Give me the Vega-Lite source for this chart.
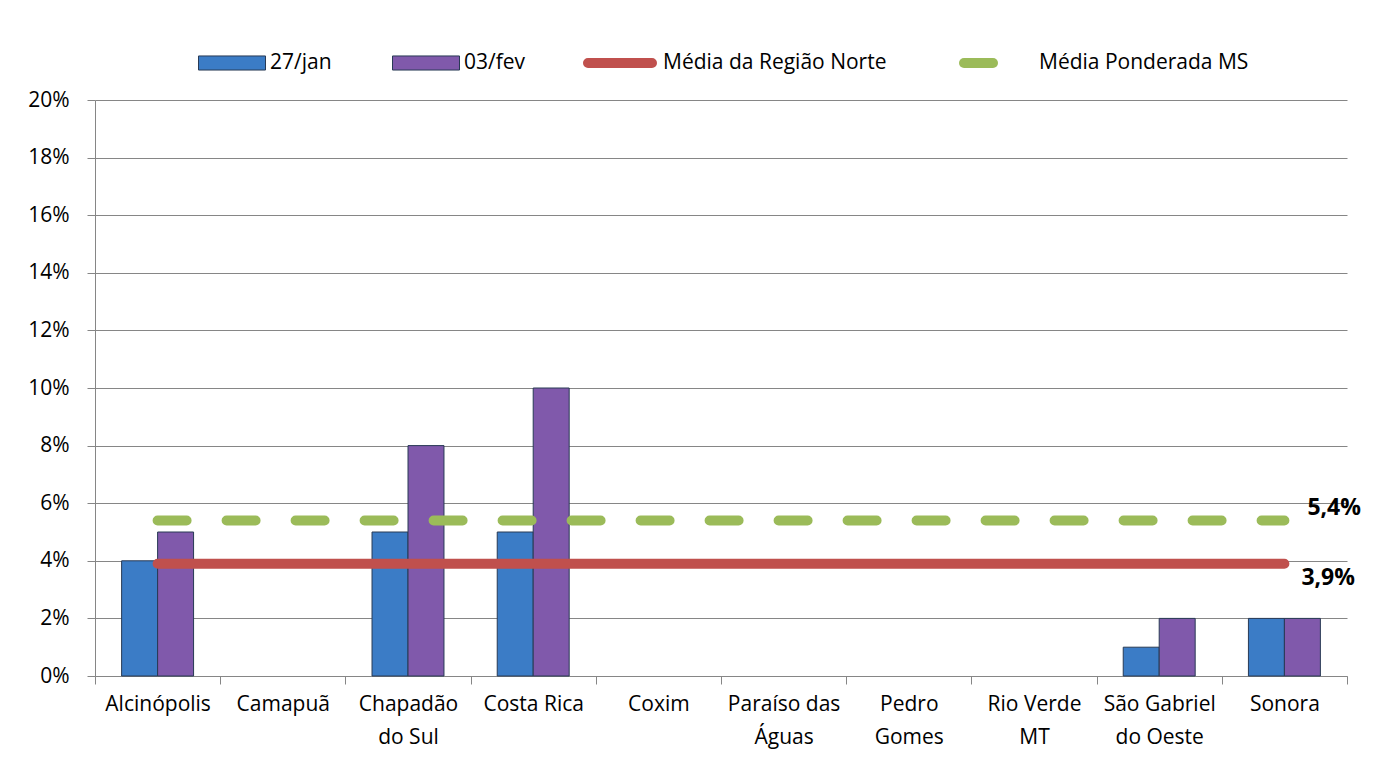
{
  "$schema": "https://vega.github.io/schema/vega-lite/v6.json",
  "width": 1252,
  "height": 576,
  "autosize": {"type": "none"},
  "padding": {"left": 95, "top": 100, "right": 42, "bottom": 94},
  "background": "white",
  "config": {
    "font": "Open Sans",
    "locale": {"number": {"decimal": ",", "thousands": ".", "grouping": [3], "currency": ["R$", ""]}},
    "view": {"stroke": null},
    "axis": {"labelColor": "#000000", "labelFont": "Open Sans", "labelFontSize": 21, "domainColor": "#868686", "tickColor": "#868686", "gridColor": "#868686", "title": null},
    "legend": {"labelFont": "Open Sans", "labelFontSize": 21, "labelColor": "#000000", "labelLimit": 500}
  },
  "datasets": {
    "barras": [
      {"municipio": "Alcinópolis", "data": "27/jan", "valor": 0.04},
      {"municipio": "Alcinópolis", "data": "03/fev", "valor": 0.05},
      {"municipio": "Camapuã", "data": "27/jan", "valor": 0},
      {"municipio": "Camapuã", "data": "03/fev", "valor": 0},
      {"municipio": "Chapadão do Sul", "data": "27/jan", "valor": 0.05},
      {"municipio": "Chapadão do Sul", "data": "03/fev", "valor": 0.08},
      {"municipio": "Costa Rica", "data": "27/jan", "valor": 0.05},
      {"municipio": "Costa Rica", "data": "03/fev", "valor": 0.10},
      {"municipio": "Coxim", "data": "27/jan", "valor": 0},
      {"municipio": "Coxim", "data": "03/fev", "valor": 0},
      {"municipio": "Paraíso das Águas", "data": "27/jan", "valor": 0},
      {"municipio": "Paraíso das Águas", "data": "03/fev", "valor": 0},
      {"municipio": "Pedro Gomes", "data": "27/jan", "valor": 0},
      {"municipio": "Pedro Gomes", "data": "03/fev", "valor": 0},
      {"municipio": "Rio Verde MT", "data": "27/jan", "valor": 0},
      {"municipio": "Rio Verde MT", "data": "03/fev", "valor": 0},
      {"municipio": "São Gabriel do Oeste", "data": "27/jan", "valor": 0.01},
      {"municipio": "São Gabriel do Oeste", "data": "03/fev", "valor": 0.02},
      {"municipio": "Sonora", "data": "27/jan", "valor": 0.02},
      {"municipio": "Sonora", "data": "03/fev", "valor": 0.02}
    ],
    "medias": [
      {"municipio": "Alcinópolis", "serie": "Média da Região Norte", "valor": 0.039},
      {"municipio": "Camapuã", "serie": "Média da Região Norte", "valor": 0.039},
      {"municipio": "Chapadão do Sul", "serie": "Média da Região Norte", "valor": 0.039},
      {"municipio": "Costa Rica", "serie": "Média da Região Norte", "valor": 0.039},
      {"municipio": "Coxim", "serie": "Média da Região Norte", "valor": 0.039},
      {"municipio": "Paraíso das Águas", "serie": "Média da Região Norte", "valor": 0.039},
      {"municipio": "Pedro Gomes", "serie": "Média da Região Norte", "valor": 0.039},
      {"municipio": "Rio Verde MT", "serie": "Média da Região Norte", "valor": 0.039},
      {"municipio": "São Gabriel do Oeste", "serie": "Média da Região Norte", "valor": 0.039},
      {"municipio": "Sonora", "serie": "Média da Região Norte", "valor": 0.039},
      {"municipio": "Alcinópolis", "serie": "Média Ponderada MS", "valor": 0.054},
      {"municipio": "Camapuã", "serie": "Média Ponderada MS", "valor": 0.054},
      {"municipio": "Chapadão do Sul", "serie": "Média Ponderada MS", "valor": 0.054},
      {"municipio": "Costa Rica", "serie": "Média Ponderada MS", "valor": 0.054},
      {"municipio": "Coxim", "serie": "Média Ponderada MS", "valor": 0.054},
      {"municipio": "Paraíso das Águas", "serie": "Média Ponderada MS", "valor": 0.054},
      {"municipio": "Pedro Gomes", "serie": "Média Ponderada MS", "valor": 0.054},
      {"municipio": "Rio Verde MT", "serie": "Média Ponderada MS", "valor": 0.054},
      {"municipio": "São Gabriel do Oeste", "serie": "Média Ponderada MS", "valor": 0.054},
      {"municipio": "Sonora", "serie": "Média Ponderada MS", "valor": 0.054}
    ]
  },
  "encoding": {
    "x": {
      "field": "municipio", "type": "nominal", "sort": null,
      "scale": {"domain": ["Alcinópolis", "Camapuã", "Chapadão do Sul", "Costa Rica", "Coxim", "Paraíso das Águas", "Pedro Gomes", "Rio Verde MT", "São Gabriel do Oeste", "Sonora"], "paddingInner": 0, "paddingOuter": 0},
      "axis": {
        "tickBand": "extent", "labelAngle": 0, "tickSize": 8, "labelPadding": 9, "labelLineHeight": 33, "grid": false,
        "labelExpr": "datum.value == 'Chapadão do Sul' ? ['Chapadão', 'do Sul'] : datum.value == 'Paraíso das Águas' ? ['Paraíso das', 'Águas'] : datum.value == 'Pedro Gomes' ? ['Pedro', 'Gomes'] : datum.value == 'Rio Verde MT' ? ['Rio Verde', 'MT'] : datum.value == 'São Gabriel do Oeste' ? ['São Gabriel', 'do Oeste'] : datum.value"
      }
    },
    "y": {
      "field": "valor", "type": "quantitative",
      "scale": {"domain": [0, 0.2], "nice": false},
      "axis": {"format": ".0%", "values": [0, 0.02, 0.04, 0.06, 0.08, 0.1, 0.12, 0.14, 0.16, 0.18, 0.2], "grid": true, "tickSize": 8, "labelPadding": 18}
    }
  },
  "layer": [
    {
      "data": {"name": "barras"},
      "transform": [{"filter": "datum.valor > 0"}],
      "mark": {"type": "bar", "stroke": "#283a55", "strokeWidth": 1},
      "encoding": {
        "xOffset": {"field": "data", "type": "nominal", "sort": null, "scale": {"domain": ["27/jan", "03/fev"], "paddingInner": 0, "paddingOuter": 0.74}},
        "fill": {
          "field": "data", "type": "nominal", "sort": null,
          "scale": {"domain": ["27/jan", "03/fev"], "range": ["#3b7cc6", "#8059ab"]},
          "legend": {"title": null, "orient": "none", "direction": "horizontal", "legendX": 103, "legendY": -71, "symbolType": "M-1,-0.21H1V0.21H-1Z", "symbolSize": 4489, "symbolStrokeWidth": 1, "symbolStrokeColor": "#283a55", "labelOffset": 4, "columnPadding": 58, "symbolOpacity": 1}
        }
      }
    },
    {
      "data": {"name": "medias"},
      "mark": {"type": "line", "strokeWidth": 10, "strokeCap": "round"},
      "encoding": {
        "stroke": {
          "field": "serie", "type": "nominal", "sort": null,
          "scale": {"domain": ["Média da Região Norte", "Média Ponderada MS"], "range": ["#c0504d", "#9bbb59"]},
          "legend": {"title": null, "orient": "none", "direction": "horizontal", "legendX": 488, "legendY": -74, "symbolType": "stroke", "symbolSize": 4096, "symbolStrokeWidth": 10, "labelOffset": 6, "columnPadding": 57, "encode": {"symbols": {"update": {"strokeCap": {"value": "round"}}}}}
        },
        "strokeDash": {
          "field": "serie", "type": "nominal", "sort": null,
          "scale": {"domain": ["Média da Região Norte", "Média Ponderada MS"], "range": [[1, 0], [29, 40]]},
          "legend": {"title": null, "orient": "none", "direction": "horizontal", "legendX": 488, "legendY": -74, "symbolType": "stroke", "symbolSize": 4096, "symbolStrokeWidth": 10, "labelOffset": 6, "columnPadding": 57, "encode": {"symbols": {"update": {"strokeCap": {"value": "round"}}}}}
        }
      }
    },
    {
      "data": {"name": "medias"},
      "transform": [{"filter": "datum.municipio == 'Sonora' && datum.serie == 'Média Ponderada MS'"}],
      "mark": {"type": "text", "align": "left", "baseline": "middle", "dx": 23, "dy": -12, "fontSize": 23, "fontWeight": "bold", "color": "#000000"},
      "encoding": {"text": {"field": "valor", "type": "quantitative", "format": ".1%"}}
    },
    {
      "data": {"name": "medias"},
      "transform": [{"filter": "datum.municipio == 'Sonora' && datum.serie == 'Média da Região Norte'"}],
      "mark": {"type": "text", "align": "left", "baseline": "middle", "dx": 17, "dy": 14, "fontSize": 23, "fontWeight": "bold", "color": "#000000"},
      "encoding": {"text": {"field": "valor", "type": "quantitative", "format": ".1%"}}
    }
  ]
}
